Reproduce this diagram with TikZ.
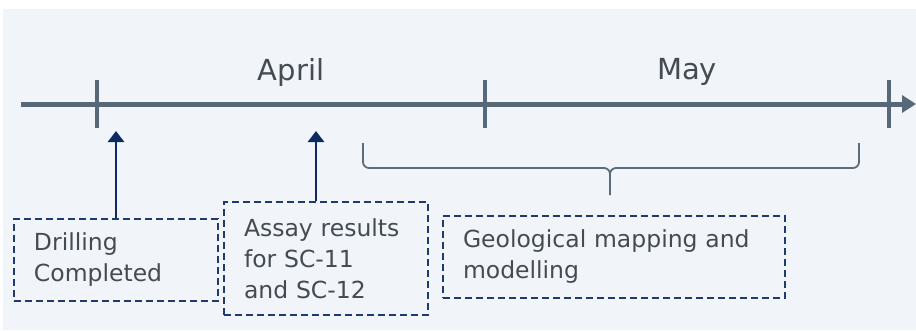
\documentclass[tikz,border=0pt]{standalone}
\usepackage{fontspec}
\setmainfont{DejaVu Sans}
\usetikzlibrary{arrows.meta}

\definecolor{panelbg}{HTML}{F1F5F9}
\definecolor{axisgray}{HTML}{56697A}
\definecolor{navy}{HTML}{0D2A62}
\definecolor{boxnavy}{HTML}{1F3A6E}
\definecolor{textgray}{HTML}{454B52}
\definecolor{bracegray}{HTML}{5B6C7B}

\tikzset{
  month/.style={text=textgray,font=\fontsize{29}{34}\selectfont},
  eventbox/.style={draw=boxnavy,line width=2pt,
    dash pattern=on 7pt off 4pt,anchor=north west,inner xsep=20pt,
    align=left,text=textgray,font=\fontsize{23.5}{31}\selectfont},
  eventarrow/.style={navy,line width=2.8pt,-{Triangle[length=11pt,width=16pt]}},
  bracket/.style={bracegray,line width=1.8pt,rounded corners=6pt}
}

\begin{document}
\begin{tikzpicture}[x=1pt,y=-1pt]
  \useasboundingbox (0,0) rectangle (916,330);
  \fill[panelbg] (3,9) rectangle (916,330);

  % time axis
  \draw[axisgray,line width=5pt,-{Triangle[length=14pt,width=17pt]}] (21,104) -- (916,104);
  \foreach \x/\n in {97/a,485/b,889/c} {
    \coordinate (t\n) at (\x,104);
    \draw[axisgray,line width=4.5pt] (\x,80) -- (\x,128);
  }
  \node[month] (april) at (291,72) {April};
  \node[month] (may) at (687,72) {May};

  % events
  \node[eventbox,minimum width=204pt,minimum height=82pt,text width=164pt] (drill) at (13,218)
    {Drilling\\Completed};
  \node[eventbox,minimum width=204pt,minimum height=113pt,text width=164pt] (assay) at (223,201)
    {Assay results\\for SC-11\\and SC-12};
  \node[eventbox,minimum width=342pt,minimum height=82pt,text width=302pt] (geo) at (442,215)
    {Geological mapping and\\modelling};

  \coordinate (p1) at (116,131);
  \coordinate (p2) at (316,131);
  \draw[eventarrow] (p1 |- drill.north) -- (p1);
  \draw[eventarrow] (p2 |- assay.north) -- (p2);

  % brace over the mapping period
  \coordinate (bt) at (610,195);
  \draw[bracket] (363,143) -- (363,168) -- (610,168) -- (bt);
  \draw[bracket] (859,143) -- (859,168) -- (610,168) -- (bt);
\end{tikzpicture}
\end{document}
